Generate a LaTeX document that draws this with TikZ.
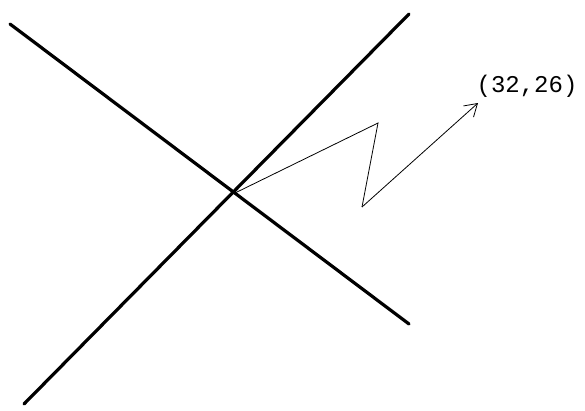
\documentclass[tikz,border=0pt]{standalone}
\usepackage{fontspec}
\setmonofont{Liberation Mono}
\usetikzlibrary{arrows.meta}

\begin{document}
\begin{tikzpicture}[x=1pt,y=-1pt,
			ax/.style={draw=black,line width=3.2pt,line cap=round},
			vec/.style={draw=black,line width=0.8pt},
			tip/.style={-{Straight Barb[length=12pt,width=15pt,line width=0.8pt]}},
			lbl/.style={font=\ttfamily\fontsize{24}{24}\selectfont,inner sep=0pt}]
			\useasboundingbox (0,0) rectangle (585,410);
			% axes
			\coordinate (d1) at (10,24);
			\coordinate (d2) at (409,324);
			\coordinate (u1) at (409,14);
			\coordinate (u2) at (24,404);
			\draw[ax] (d1) -- (d2);
			\draw[ax] (u1) -- (u2);
			% path to the point
			\coordinate (o) at (235,193);
			\coordinate (p1) at (378,123);
			\coordinate (p2) at (362,207);
			\coordinate (p3) at (478,103);
			\draw[vec] (o) -- (p1) -- (p2);
			\draw[vec,tip] (p2) -- (p3);
			\node[lbl] (pt) at (527,86) {(32,26)};
		\end{tikzpicture}
\end{document}
